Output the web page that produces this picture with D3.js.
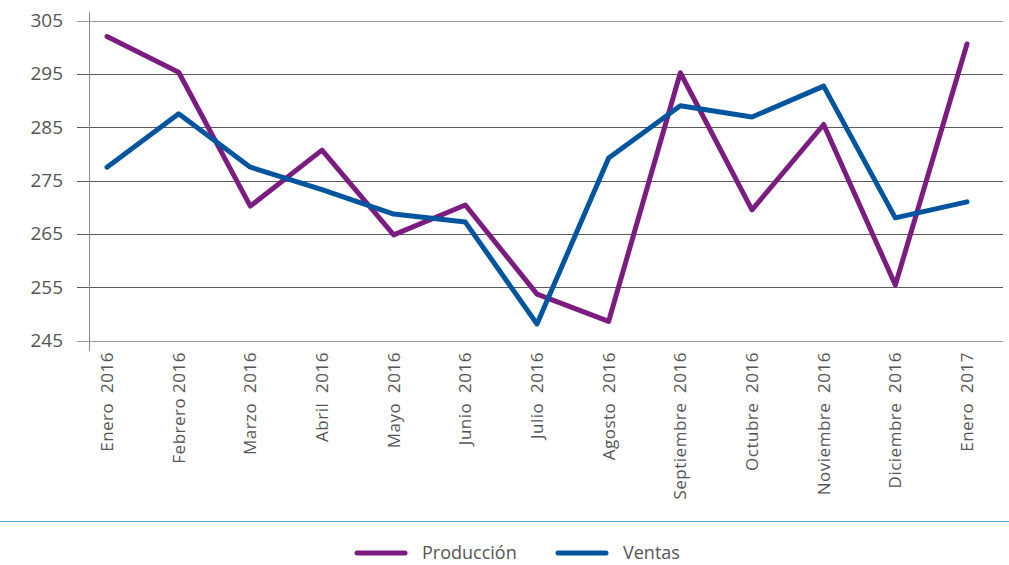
<!DOCTYPE html>
<html>
<head>
<meta charset="utf-8">
<script src="https://cdn.jsdelivr.net/npm/d3@7/dist/d3.min.js"></script>
<style>
  body { margin: 0; background: #fff; }
  svg { display: block; font-family: "Open Sans", "DejaVu Sans", sans-serif; }
</style>
</head>
<body>
<svg id="chart" width="1009" height="565"></svg>
<script>
const months = ['Enero  2016', 'Febrero 2016', 'Marzo  2016', 'Abril  2016', 'Mayo  2016', 'Junio  2016',
  'Julio  2016', 'Agosto  2016', 'Septiembre  2016', 'Octubre  2016', 'Noviembre  2016', 'Diciembre  2016', 'Enero  2017'];
const produccion = [302.0, 295.3, 270.2, 280.7, 264.8, 270.4, 253.7, 248.6, 295.2, 269.5, 285.5, 255.4, 300.6];
const ventas = [277.5, 287.5, 277.5, 273.3, 268.7, 267.2, 248.1, 279.2, 289.0, 286.9, 292.7, 268.0, 271.0];
const yTicks = [245, 255, 265, 275, 285, 295, 305];

const series = [
  { name: 'Producción', values: produccion, color: '#7b1c80' },
  { name: 'Ventas', values: ventas, color: '#00559e' },
];

const svg = d3.select('#chart');
const axisX = 89, gridLeft = 77, gridRight = 1003;

const x = d3.scalePoint().domain(months).range([107, 967]);
const y = d3.scaleLinear().domain([245, 305]).range([340.5, 20.5]);

// gridlines
svg.append('g')
  .selectAll('line')
  .data(yTicks)
  .join('line')
  .attr('x1', gridLeft)
  .attr('x2', gridRight)
  .attr('y1', d => Math.round(y(d)) + 0.5)
  .attr('y2', d => Math.round(y(d)) + 0.5)
  .attr('stroke', d => (d === 245 || d === 305) ? '#9a9a9a' : '#5a5a5a')
  .attr('stroke-width', 1);

// vertical axis
svg.append('line')
  .attr('x1', axisX + 0.5).attr('x2', axisX + 0.5)
  .attr('y1', 12).attr('y2', 351)
  .attr('stroke', '#8a8a8a');

// y labels
svg.append('g')
  .selectAll('text')
  .data(yTicks)
  .join('text')
  .attr('x', 63)
  .attr('y', d => y(d) + 6.5)
  .attr('text-anchor', 'end')
  .attr('font-size', '19px')
  .attr('fill', '#555')
  .text(d => d);

// x labels
svg.append('g')
  .selectAll('text')
  .data(months)
  .join('text')
  .attr('transform', d => `translate(${x(d) + 6}, 352) rotate(-90)`)
  .attr('text-anchor', 'end')
  .attr('font-size', '17px')
  .attr('letter-spacing', '0.5px')
  .attr('fill', '#555')
  .style('white-space', 'pre')
  .text(d => d);

// lines
const line = d3.line()
  .x((d, i) => x(months[i]))
  .y(d => y(d));

series.forEach(s => {
  svg.append('path')
    .datum(s.values)
    .attr('d', line)
    .attr('fill', 'none')
    .attr('stroke', s.color)
    .attr('stroke-width', 5)
    .attr('stroke-linejoin', 'round')
    .attr('stroke-linecap', 'round');
});

// separator
svg.append('line')
  .attr('x1', 0).attr('x2', 1009)
  .attr('y1', 521.5).attr('y2', 521.5)
  .attr('stroke', '#4f9fdb');

// legend
const legendPos = [357, 558];
series.forEach((s, i) => {
  const lx = legendPos[i];
  svg.append('line')
    .attr('x1', lx).attr('x2', lx + 48)
    .attr('y1', 553).attr('y2', 553)
    .attr('stroke', s.color)
    .attr('stroke-width', 5)
    .attr('stroke-linecap', 'round');
  svg.append('text')
    .attr('x', lx + 65)
    .attr('y', 559)
    .attr('font-size', '18px')
    .attr('fill', '#555')
    .text(s.name);
});
</script>
</body>
</html>
